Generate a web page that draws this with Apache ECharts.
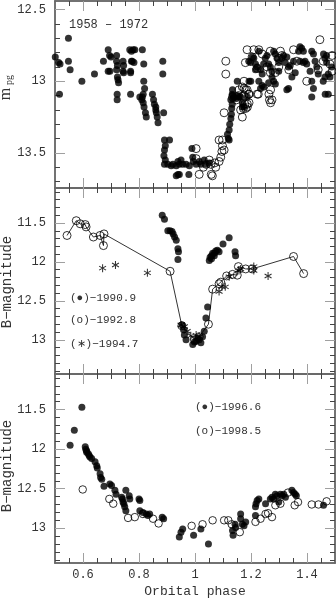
<!DOCTYPE html>
<html>
<head>
<meta charset="utf-8">
<script src="https://cdn.jsdelivr.net/npm/echarts@6.0.0/dist/echarts.min.js"></script>
<style>
  html, body { margin: 0; padding: 0; background: #fff; }
  #chart { width: 336px; height: 601px; }
</style>
</head>
<body>
<div id="chart"></div>
<script>
// ---- ticks ----
var xMajor = [0.6, 0.8, 1, 1.2, 1.4];
var xMinor = [0.55, 0.65, 0.7, 0.75, 0.85, 0.9, 0.95, 1.05, 1.1, 1.15, 1.25, 1.3, 1.35, 1.45];
var yTopMajor = [12.5, 13, 13.5];
var yTopMinor = [12.6, 12.7, 12.8, 12.9, 13.1, 13.2, 13.3, 13.4, 13.6, 13.7];
var yLowMajor = [11.5, 12, 12.5, 13];
var yLowMinor = [11.1, 11.2, 11.3, 11.4, 11.6, 11.7, 11.8, 11.9, 12.1, 12.2, 12.3, 12.4,
                 12.6, 12.7, 12.8, 12.9, 13.1, 13.2, 13.3, 13.4];

// ---- panel 1: m_pg 1958-1972 ----
var pgFilled = [
  [0.501,12.83],[0.499,12.93],[0.497,12.94],[0.513,12.87],[0.518,12.88],[0.516,13.09],[0.548,12.70],
  [0.548,12.86],[0.554,12.92],[0.596,13.00],[0.641,12.95],[0.673,12.86],[0.690,12.78],[0.695,12.82],
  [0.700,12.83],[0.690,12.93],[0.696,12.93],[0.720,12.82],[0.720,12.86],[0.723,12.89],[0.720,12.92],
  [0.723,12.97],[0.725,12.99],[0.727,13.01],[0.722,13.09],[0.722,13.13],[0.743,12.86],[0.745,12.89],
  [0.743,12.93],[0.745,12.94],[0.767,12.78],[0.773,12.79],[0.779,12.78],[0.785,12.78],[0.773,12.86],
  [0.776,12.86],[0.782,12.87],[0.770,12.93],[0.770,12.94],[0.770,13.09],[0.812,12.78],[0.817,12.88],
  [0.817,13.00],[0.820,13.05],[0.815,13.09],[0.812,13.11],[0.803,13.11],[0.810,13.13],[0.815,13.15],
  [0.818,13.18],[0.823,13.22],[0.826,13.25],[0.848,13.09],[0.852,13.13],[0.855,13.16],[0.860,13.18],
  [0.860,13.20],[0.862,13.22],[0.865,13.25],[0.868,13.29],[0.885,12.86],[0.885,12.95],[0.888,13.22],
  [0.891,13.41],[0.909,13.41],[0.894,13.45],[0.891,13.48],[0.889,13.52],[0.894,13.55],[0.891,13.58],
  [0.903,13.58],[0.915,13.59],[0.921,13.58],[0.933,13.59],[0.939,13.56],[0.944,13.58],[0.950,13.55],
  [0.956,13.58],[0.939,13.65],[0.933,13.66],[0.944,13.65],[0.968,13.58],[0.980,13.59],[0.978,13.65],
  [0.989,13.47],[0.992,13.53],[0.994,13.56],[1.004,13.58],[1.015,13.56],[1.021,13.58],[1.033,13.55],
  [1.039,13.58],[1.051,13.57],
  [1.116,13.37],[1.119,13.40],[1.122,13.41],[1.122,13.34],[1.124,13.30],[1.128,13.26],[1.130,13.23],
  [1.131,13.19],[1.133,13.16],[1.136,13.12],[1.133,13.09],[1.151,13.10],[1.163,13.11],[1.169,13.15],
  [1.169,13.18],[1.128,13.13],[1.134,13.10],[1.134,13.06],[1.139,13.11],[1.148,13.12],[1.151,13.00],
  [1.157,13.11],[1.175,13.18],[1.187,13.11],[1.193,13.00],[1.199,13.00],
  [1.192,12.86],[1.198,12.87],[1.204,12.83],[1.210,12.84],[1.216,12.88],[1.222,12.90],[1.228,12.79],
  [1.234,12.92],[1.216,12.92],[1.240,12.95],[1.245,12.88],[1.251,12.84],[1.257,12.82],[1.263,12.88],
  [1.269,12.90],[1.275,12.93],[1.281,12.79],[1.287,12.81],[1.293,12.84],[1.299,12.87],[1.275,12.97],
  [1.281,13.00],[1.287,13.02],[1.263,13.01],[1.299,12.93],[1.310,12.84],[1.316,12.82],[1.322,12.87],
  [1.328,12.83],[1.334,12.90],[1.340,12.89],[1.346,12.97],[1.352,12.86],[1.358,12.94],[1.370,12.79],
  [1.375,12.76],[1.381,12.77],[1.387,12.79],[1.375,12.86],[1.387,12.87],[1.393,12.86],[1.399,12.88],
  [1.411,12.93],[1.417,12.79],[1.423,12.81],[1.429,12.86],[1.435,12.90],[1.440,12.95],[1.417,13.00],
  [1.423,13.05],[1.464,12.84],[1.470,12.87],[1.464,12.97],[1.458,13.00],[1.476,12.95],[1.482,12.97],
  [1.334,13.05],[1.328,13.06],[1.234,13.05],[1.240,13.03],[1.228,13.00],[1.417,13.11],[1.465,13.09],
  [1.476,13.09],[1.246,13.04],[1.488,12.90],[1.470,12.82],[1.459,12.81]
];
var pgOpen = [
  [1.004,13.47],[1.004,13.54],[1.015,13.65],[1.051,13.55],[1.057,13.58],[1.058,13.65],[1.062,13.66],
  [1.074,13.60],[1.086,13.56],[1.092,13.53],[1.096,13.49],[1.098,13.45],[1.098,13.41],[1.086,13.41],
  [1.104,13.48],[1.040,13.58],[1.030,13.60],[1.070,13.57],
  [1.104,13.22],[1.169,13.25],[1.181,13.19],[1.187,13.16],[1.193,13.15],[1.175,13.10],[1.193,13.09],
  [1.226,13.09],[1.264,13.09],[1.270,13.15],[1.134,13.11],[1.148,13.13],[1.155,13.10],[1.157,13.06],
  [1.163,13.20],[1.173,13.19],[1.178,13.16],[1.181,13.06],[1.175,13.00],[1.169,13.04],[1.187,13.18],
  [1.266,13.13],[1.275,13.13],[1.270,13.06],
  [1.110,12.86],[1.110,12.95],[1.186,12.78],[1.210,12.78],[1.228,12.78],[1.180,12.87],[1.222,12.91],
  [1.269,12.79],[1.305,12.79],[1.299,12.90],[1.257,12.90],[1.269,12.94],[1.287,12.94],[1.352,12.78],
  [1.364,12.86],[1.399,13.00],[1.440,12.92],[1.446,12.71],[1.458,12.86],[1.482,12.88],[1.490,12.82],
  [1.490,12.93],[1.175,13.05],[1.192,13.09],[1.222,13.09],[1.186,13.06],[1.240,12.81],[1.204,12.83],
  [1.335,12.92],[1.299,12.84],[1.311,12.82]
];

// ---- panel 2: B 1990.9 / 1992.8 / 1994.7 ----
var b1990 = [
  [0.883,11.40],[0.891,11.45],[0.903,11.60],[0.911,11.60],[0.918,11.61],[0.922,11.64],[0.927,11.68],
  [0.933,11.72],[0.939,11.83],[0.941,11.87],[0.939,11.97],
  [1.051,11.98],[1.054,11.94],[1.059,11.92],[1.063,11.89],[1.069,11.89],[1.074,11.86],[1.080,11.85],
  [1.086,11.87],[1.069,11.92],[1.059,11.96],[1.100,11.77],[1.122,11.69],[1.143,11.87],[1.145,11.92],
  [0.954,12.81],[0.959,12.87],[0.962,12.94],[0.968,13.00],[0.992,13.06],[1.004,13.02],[1.009,12.98],
  [1.015,13.00],[1.021,13.04],[1.027,12.96],[1.033,12.89],[1.039,12.72],[1.045,12.58],[0.998,13.03]
];
var b1992 = [
  [0.543,11.66],[0.576,11.47],[0.590,11.51],[0.608,11.52],[0.611,11.55],[0.637,11.68],[0.661,11.66],
  [0.673,11.79],[0.675,11.64],[0.911,12.12],[0.953,12.82],[0.998,13.00],[1.015,12.96],[1.048,12.80],
  [1.063,12.35],[1.086,12.28],[1.092,12.26],[1.113,12.18],[1.134,12.16],[1.151,12.17],[1.155,12.06],
  [1.181,12.09],[1.204,12.09],[1.352,11.93],[1.388,12.15]
];
var b1994 = [
  [0.670,12.08],[0.716,12.04],[0.830,12.14],[0.950,12.81],[0.962,12.83],[0.972,12.89],[0.985,12.95],
  [1.004,12.94],[1.015,12.96],[1.086,12.38],[1.096,12.32],[1.108,12.32],[1.122,12.19],[1.157,12.11],
  [1.163,12.09],[1.210,12.06],[1.210,12.11],[1.261,12.18]
];

// ---- panel 3: B 1996.6 / 1998.5 ----
var b1996 = [
  [0.554,11.95],[0.569,11.76],[0.596,11.47],[0.608,11.97],[0.610,12.00],[0.613,12.02],[0.613,12.04],
  [0.619,12.06],[0.622,12.08],[0.625,12.10],[0.631,12.12],[0.643,12.16],[0.649,12.21],[0.651,12.24],
  [0.661,12.31],[0.663,12.36],[0.667,12.38],[0.675,12.47],[0.696,12.44],[0.702,12.46],[0.714,12.52],
  [0.718,12.57],[0.738,12.61],[0.741,12.63],[0.743,12.67],[0.746,12.69],[0.749,12.73],[0.753,12.78],
  [0.753,12.52],[0.765,12.59],[0.767,12.63],[0.800,12.63],[0.803,12.65],[0.803,12.78],[0.814,12.80],
  [0.826,12.82],[0.832,12.84],[0.838,12.82],[0.883,12.86],[0.888,12.88],[0.944,13.11],[0.950,13.05],
  [0.956,13.01],[0.995,13.09],[1.021,13.01],[1.048,13.20],[1.134,13.03],[1.136,13.09],[1.143,12.95],
  [1.145,12.99],[1.163,12.82],[1.163,12.88],[1.169,12.95],[1.175,12.97],[1.181,12.92],[1.216,12.73],
  [1.218,12.69],[1.222,12.65],[1.228,12.63],[1.216,12.84],[1.252,12.69],[1.269,12.63],[1.275,12.61],
  [1.281,12.63],[1.287,12.57],[1.293,12.59],[1.305,12.57],[1.311,12.59],[1.317,12.57],[1.323,12.61],
  [1.299,12.67],[1.346,12.52],[1.352,12.55],[1.358,12.57],[1.362,12.59],[1.459,12.71]
];
var b1998 = [
  [0.599,12.51],[0.694,12.63],[0.708,12.69],[0.761,12.87],[0.785,12.86],[0.814,12.82],[0.850,12.88],
  [0.870,12.94],[0.988,12.97],[1.027,12.95],[1.063,12.90],[1.104,12.90],[1.119,12.90],[1.131,12.95],
  [1.160,13.05],[1.216,12.92],[1.234,12.88],[1.252,12.82],[1.261,12.81],[1.275,12.86],[1.287,12.71],
  [1.305,12.69],[1.332,12.55],[1.356,12.71],[1.368,12.67],[1.417,12.70],[1.441,12.70],[1.470,12.66]
];

var FRAME = '#6a6a6a';
var TXT = '#333';
var MONO = 'Liberation Mono';

var grids = [
  {left: 55, right: 1, top: 1, height: 187},
  {left: 55, right: 1, top: 188, height: 186},
  {left: 55, right: 1, top: 374, height: 189}
];

function xAx(g, pos, vals, major, label) {
  return {
    type: 'value', gridIndex: g, position: pos, min: 0.5, max: 1.5,
    axisLine: {show: true, onZero: false, lineStyle: {color: FRAME, width: 1.5}},
    axisTick: {show: true, inside: true, customValues: vals, length: major ? 10 : 5,
               lineStyle: {color: major ? '#a0a0a0' : '#444', width: 1}},
    axisLabel: label ? {show: true, customValues: vals, margin: 6, color: TXT,
                        fontFamily: MONO, fontSize: 12} : {show: false},
    splitLine: {show: false}
  };
}
function yAx(g, pos, range, vals, major, label) {
  return {
    type: 'value', gridIndex: g, position: pos, inverse: true, min: range[0], max: range[1],
    axisLine: {show: true, onZero: false, lineStyle: {color: FRAME, width: 1.5}},
    axisTick: {show: true, inside: true, customValues: vals, length: major ? 10 : 5,
               lineStyle: {color: major ? '#a0a0a0' : '#444', width: 1}},
    axisLabel: label ? {show: true, customValues: vals, margin: 9, color: TXT,
                        fontFamily: MONO, fontSize: 12} : {show: false},
    splitLine: {show: false}
  };
}

var ranges = [[12.44, 13.745], [11.05, 13.44], [11.05, 13.44]];
var xAxes = [], yAxes = [];
for (var g = 0; g < 3; g++) {
  var ym = g === 0 ? yTopMajor : yLowMajor;
  var yn = g === 0 ? yTopMinor : yLowMinor;
  xAxes.push(xAx(g, 'bottom', xMinor, false, false));
  xAxes.push(xAx(g, 'bottom', xMajor, true, g === 2));
  xAxes.push(xAx(g, 'top', xMinor, false, false));
  xAxes.push(xAx(g, 'top', xMajor, true, false));
  yAxes.push(yAx(g, 'left', ranges[g], yn, false, false));
  yAxes.push(yAx(g, 'left', ranges[g], ym, true, true));
  yAxes.push(yAx(g, 'right', ranges[g], yn, false, false));
  yAxes.push(yAx(g, 'right', ranges[g], ym, true, false));
}

function starPath() {
  var d = '';
  [0, 60, 120].forEach(function (a) {
    var t = a * Math.PI / 180, L = 5, W = 0.65;
    var dx = Math.sin(t), dy = -Math.cos(t), nx = Math.cos(t), ny = Math.sin(t);
    var p = [[L*dx+W*nx, L*dy+W*ny], [L*dx-W*nx, L*dy-W*ny], [-L*dx-W*nx, -L*dy-W*ny], [-L*dx+W*nx, -L*dy+W*ny]];
    d += 'M' + p.map(function (q) { return q[0].toFixed(2) + ',' + q[1].toFixed(2); }).join('L') + 'Z';
  });
  return 'path://' + d;
}

function filled(g, data) {
  return {type: 'scatter', xAxisIndex: 4*g, yAxisIndex: 4*g, data: data, symbol: 'circle',
          symbolSize: 7, itemStyle: {color: '#000'}, silent: true, z: 3};
}
function open(g, data, size) {
  return {type: 'scatter', xAxisIndex: 4*g, yAxisIndex: 4*g, data: data, symbol: 'circle',
          symbolSize: size || 8, itemStyle: {color: 'rgba(0,0,0,0)', borderColor: '#000', borderWidth: 1},
          silent: true, z: 4};
}

var option = {
  animation: false,
  backgroundColor: '#fff',
  grid: grids,
  xAxis: xAxes,
  yAxis: yAxes,
  series: [
    filled(0, pgFilled),
    open(0, pgOpen),
    {type: 'line', xAxisIndex: 4, yAxisIndex: 4, data: b1992, symbol: 'none',
     lineStyle: {color: '#000', width: 0.8}, silent: true, z: 2},
    filled(1, b1990),
    open(1, b1992),
    {type: 'scatter', xAxisIndex: 4, yAxisIndex: 4, data: b1994, symbol: starPath(),
     symbolSize: 8, symbolKeepAspect: true, itemStyle: {color: '#000'}, silent: true, z: 5},
    filled(2, b1996),
    open(2, b1998, 7.5)
  ],
  graphic: [
    {type: 'text', left: 69, top: 19, style: {text: '1958 \u2013 1972', font: '12px ' + MONO, fill: TXT}},
    {type: 'text', x: 6, y: 94, rotation: Math.PI / 2,
     style: {text: 'm', font: '16px Liberation Serif', fill: TXT, align: 'center', verticalAlign: 'middle'}},
    {type: 'text', x: 9, y: 80, rotation: Math.PI / 2,
     style: {text: 'pg', font: '10px Liberation Serif', fill: TXT, align: 'center', verticalAlign: 'middle'}},
    {type: 'text', x: 7, y: 282, rotation: Math.PI / 2,
     style: {text: 'B\u2212magnitude', font: '14px ' + MONO, fill: TXT, align: 'center', verticalAlign: 'middle'}},
    {type: 'text', x: 7, y: 466, rotation: Math.PI / 2,
     style: {text: 'B\u2212magnitude', font: '14px ' + MONO, fill: TXT, align: 'center', verticalAlign: 'middle'}},
    {type: 'text', x: 195, y: 592,
     style: {text: 'Orbital phase', font: '13px ' + MONO, fill: TXT, align: 'center', verticalAlign: 'middle'}},
    {type: 'text', x: 70, y: 298, style: {text: '(\u25cf)\u22121990.9', font: '11px ' + MONO, fill: TXT, verticalAlign: 'middle'}},
    {type: 'text', x: 70, y: 320, style: {text: '(o)\u22121992.8', font: '11px ' + MONO, fill: TXT, verticalAlign: 'middle'}},
    {type: 'text', x: 70, y: 344, style: {text: '(\u2217)\u22121994.7', font: '11px ' + MONO, fill: TXT, verticalAlign: 'middle'}},
    {type: 'text', x: 195, y: 407, style: {text: '(\u25cf)\u22121996.6', font: '11px ' + MONO, fill: TXT, verticalAlign: 'middle'}},
    {type: 'text', x: 195, y: 431, style: {text: '(o)\u22121998.5', font: '11px ' + MONO, fill: TXT, verticalAlign: 'middle'}}
  ]
};

var chart = echarts.init(document.getElementById('chart'), null, {renderer: 'canvas'});
chart.setOption(option);
</script>
</body>
</html>
